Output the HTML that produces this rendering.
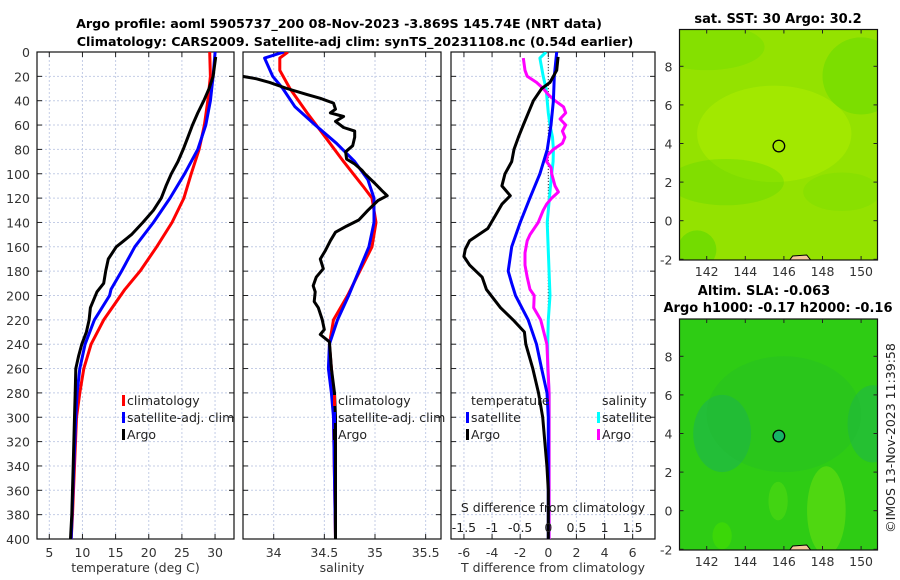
<!DOCTYPE html>
<html><head><meta charset="utf-8"><style>
body{margin:0;background:#fff;}
svg{display:block;font-family:"DejaVu Sans","Liberation Sans",sans-serif;}
</style></head><body>
<svg id="c" width="900" height="580" viewBox="0 0 900 580"></svg>
<script>
// ---- data ----
const tClimDepth=[0,20,40,60,80,100,120,140,160,180,195,220,240,260,280,300,340,380,400];
const tClimVal=[29.2,29.3,28.9,28.4,27.6,26.4,25.3,23.5,21.2,18.7,16.4,13.2,11.3,10.2,9.6,9.1,8.8,8.5,8.3];
const tSatDepth=[0,20,40,60,80,100,120,140,160,180,195,200,220,240,260,280,300,340,400];
const tSatVal=[30.0,29.7,29.3,28.6,27.4,25.4,23.2,20.7,17.9,15.9,14.3,14.1,11.8,10.4,9.6,9.2,9.0,8.7,8.3];
const tArgoDepth=[4,20,30,40,50,60,70,80,90,100,110,120,130,140,150,160,170,180,190,197,210,220,230,240,250,260,280,300,340,380,400];
const tArgoVal=[30.1,29.7,29.1,28.3,27.4,26.6,25.9,25.2,24.4,23.4,22.6,21.9,20.7,19.1,17.4,15.1,13.9,13.5,13.2,12.2,11.2,11.0,10.6,9.9,9.4,9.0,8.9,8.8,8.6,8.4,8.2];
const sClimDepth=[0,5,15,30,50,70,90,110,120,140,160,180,200,220,240,280,300,400];
const sClimVal=[34.14,34.06,34.06,34.16,34.33,34.51,34.69,34.88,34.97,35.01,34.97,34.85,34.73,34.59,34.55,34.59,34.59,34.61];
const sSatDepth=[0,5,20,30,45,60,75,90,105,120,140,160,180,200,220,240,260,280,300,400];
const sSatVal=[34.10,33.91,33.99,34.09,34.21,34.41,34.62,34.80,34.93,34.99,34.99,34.94,34.84,34.74,34.63,34.55,34.54,34.57,34.59,34.61];
const sArgoDepth=[20,22,25,30,35,38,42,47,50,53,57,62,65,70,77,82,88,92,97,100,108,114,118,122,130,138,143,148,155,163,170,178,185,192,197,205,210,220,228,232,238,260,280,300,400];
const sArgoVal=[33.69,33.83,33.96,34.13,34.33,34.46,34.59,34.61,34.56,34.69,34.61,34.69,34.80,34.80,34.78,34.71,34.72,34.80,34.87,34.90,35.00,35.07,35.12,35.03,34.93,34.84,34.72,34.61,34.56,34.51,34.46,34.49,34.42,34.39,34.41,34.40,34.44,34.48,34.50,34.46,34.55,34.57,34.60,34.61,34.61];
const dtSatDepth=[0,20,40,60,80,100,120,140,160,180,190,200,220,240,260,280,300,400];
const dtSatVal=[0.6,0.43,0.36,0.19,-0.07,-0.6,-1.31,-2.0,-2.6,-2.85,-2.6,-2.33,-1.43,-0.84,-0.48,-0.09,0,0];
const dtArgoDepth=[4,15,25,30,40,50,60,70,80,90,100,110,118,125,135,145,155,162,168,175,185,195,210,220,230,240,260,280,300,320,340,360,400];
const dtArgoVal=[0.7,0.6,0.12,-0.47,-1.06,-1.42,-1.78,-2.13,-2.44,-2.6,-3.08,-3.3,-2.7,-3.3,-3.8,-4.3,-5.6,-5.9,-6.0,-5.6,-4.7,-4.4,-3.4,-2.5,-1.7,-1.6,-1.1,-0.7,-0.4,-0.25,-0.1,0,0];
const dsSatDepth=[0,5,20,30,50,60,70,80,90,100,110,120,140,200,220,240,260,280,300,400];
const dsSatVal=[-0.04,-0.15,-0.09,-0.04,0,0.03,0.075,0.09,0.085,0.06,0.04,0.02,-0.02,0.03,0.0,-0.01,-0.01,0.015,0.015,0.015];
const dsArgoDepth=[5,15,20,25,30,35,40,45,50,55,60,65,70,75,80,85,90,95,100,110,115,120,125,130,140,150,155,165,175,185,195,200,210,220,240,280,400];
const dsArgoVal=[-0.445,-0.415,-0.375,-0.21,-0.09,0,0.12,0.27,0.31,0.21,0.31,0.25,0.295,0.25,0.09,-0.02,-0.03,0.05,0.06,0.12,0.18,0.06,-0.03,-0.09,-0.18,-0.325,-0.375,-0.415,-0.415,-0.375,-0.325,-0.25,-0.26,-0.135,-0.025,0.015,0.015];
const depthTicks=[0,20,40,60,80,100,120,140,160,180,200,220,240,260,280,300,320,340,360,380,400];
const tTicks=[5,10,15,20,25,30];
const sTicks=[34,34.5,35,35.5];
const dtTicks=[-6,-4,-2,0,2,4,6];
const dsTicks=[-1.5,-1,-0.5,0,0.5,1,1.5];
const dsTickLabels=["-1.5","-1","-0.5","0","0.5","1","1.5"];
const lonTicks=[142,144,146,148,150];
const latTicks=[-2,0,2,4,6,8];
const argoLon=145.74, argoLat=3.869;

// ---- axes ----
const NS="http://www.w3.org/2000/svg";
const svg=document.getElementById('c');
function mk(tag,attrs,parent){const e=document.createElementNS(NS,tag);for(const k in attrs)e.setAttribute(k,attrs[k]);(parent||svg).appendChild(e);return e;}
const yD=d=>52+d*1.2175;
const xT=t=>49.3+(t-5)*6.63;
const xS=s=>273.7+(s-34)*101.3;
const xDT=v=>548.3+v*14.06;
const xDS=v=>548.3+v*56.24;
const P=[{x0:37,x1:234},{x0:243,x1:441},{x0:451,x1:655}];
const FS=12.5;

// titles
let t=mk('text',{x:339,y:28,'text-anchor':'middle','font-size':12.7,'font-weight':'bold'});t.textContent='Argo profile: aoml 5905737_200 08-Nov-2023 -3.869S 145.74E (NRT data)';


t=mk('text',{x:355,y:46,'text-anchor':'middle','font-size':12.7,'font-weight':'bold'});t.textContent='Climatology: CARS2009. Satellite-adj clim: synTS_20231108.nc (0.54d earlier)';



function panel(i,ticks,xf,name,xlabel,labels){
  const p=P[i];const g=mk('g',{});
  
  
  depthTicks.forEach(d=>{mk('line',{x1:p.x0,x2:p.x1,y1:yD(d),y2:yD(d),stroke:'#c4cde6','stroke-width':1,'stroke-dasharray':'2,2'},g);
    mk('line',{x1:p.x0,x2:p.x0+5,y1:yD(d),y2:yD(d),stroke:'#222'},g);mk('line',{x1:p.x1-5,x2:p.x1,y1:yD(d),y2:yD(d),stroke:'#222'},g);});
  ticks.forEach((v,k)=>{const x=xf(v);mk('line',{x1:x,x2:x,y1:52,y2:539,stroke:'#c4cde6','stroke-dasharray':'2,2'},g);
    mk('line',{x1:x,x2:x,y1:539,y2:534,stroke:'#222'},g);mk('line',{x1:x,x2:x,y1:52,y2:57,stroke:'#222'},g);
    const l=mk('text',{x:x,y:557,'text-anchor':'middle','font-size':FS,fill:'#333'},g);l.textContent=labels?labels[k]:String(v);});
  mk('rect',{x:p.x0,y:52,width:p.x1-p.x0,height:487,fill:'none',stroke:'#111','stroke-width':1.2},g);
  const xl=mk('text',{x:(p.x0+p.x1)/2,y:572,'text-anchor':'middle','font-size':FS,fill:'#333'},g);xl.textContent=xlabel;
  return g;
}
const g1=panel(0,tTicks,xT,'temperature-panel','temperature (deg C)');
const g2=panel(1,sTicks,xS,'salinity-panel','salinity');
const g3=panel(2,dtTicks,xDT,'difference-panel','T difference from climatology');
depthTicks.forEach(d=>{const l=mk('text',{x:30,y:yD(d)+5,'text-anchor':'end','font-size':FS,fill:'#333'});l.textContent=String(d);
  
  });

mk('line',{x1:xDT(0),x2:xDT(0),y1:52,y2:539,stroke:'#333','stroke-dasharray':'1,2'},g3);

function clip(i){const id='cl'+i;const cp=mk('clipPath',{id:id});mk('rect',{x:P[i].x0,y:52,width:P[i].x1-P[i].x0,height:487},cp);return 'url(#'+id+')';}
const cps=[clip(0),clip(1),clip(2)];
function line(g,ci,depths,vals,xf,color,name){
  const pts=depths.map((d,k)=>xf(vals[k]).toFixed(1)+','+yD(d).toFixed(1)).join(' ');
  const e=mk('polyline',{points:pts,fill:'none',stroke:color,'stroke-width':3,'stroke-linejoin':'round','clip-path':cps[ci]},g);
  
  
}
line(g1,0,tClimDepth,tClimVal,xT,'#f00','temp-climatology-line');
line(g1,0,tSatDepth,tSatVal,xT,'#00f','temp-satellite-line');
line(g1,0,tArgoDepth,tArgoVal,xT,'#000','temp-argo-line');
line(g2,1,sClimDepth,sClimVal,xS,'#f00','sal-climatology-line');
line(g2,1,sSatDepth,sSatVal,xS,'#00f','sal-satellite-line');
line(g2,1,sArgoDepth,sArgoVal,xS,'#000','sal-argo-line');
line(g3,2,dsSatDepth,dsSatVal,xDS,'#0ff','sdiff-satellite-line');
line(g3,2,dsArgoDepth,dsArgoVal,xDS,'#f0f','sdiff-argo-line');
line(g3,2,dtSatDepth,dtSatVal,xDT,'#00f','tdiff-satellite-line');
line(g3,2,dtArgoDepth,dtArgoVal,xDT,'#000','tdiff-argo-line');

t=mk('text',{x:553,y:512,'text-anchor':'middle','font-size':FS,fill:'#222'},g3);t.textContent='S difference from climatology';


dsTicks.forEach((v,k)=>{const l=mk('text',{x:xDS(v),y:532,'text-anchor':'middle','font-size':FS,fill:'#222'},g3);l.textContent=dsTickLabels[k];
  
  });

function legend(x,y,color,label,name){
  const g=mk('g',{});
  
  
  mk('rect',{x:x,y:y-10,width:3,height:11,fill:color},g);
  const l=mk('text',{x:x+5,y:y,'font-size':FS,fill:'#222'},g);l.textContent=label;
}
legend(122,405,'#f00','climatology','legend-temp-climatology');
legend(122,422,'#00f','satellite-adj. clim','legend-temp-satellite');
legend(122,439,'#000','Argo','legend-temp-argo');
legend(333,405,'#f00','climatology','legend-sal-climatology');
legend(333,422,'#00f','satellite-adj. clim','legend-sal-satellite');
legend(333,439,'#000','Argo','legend-sal-argo');
t=mk('text',{x:471,y:405,'font-size':FS,fill:'#222'});t.textContent='temperature';


t=mk('text',{x:602,y:405,'font-size':FS,fill:'#222'});t.textContent='salinity';


legend(466,422,'#00f','satellite','legend-tdiff-satellite');
legend(466,439,'#000','Argo','legend-tdiff-argo');
legend(597,422,'#0ff','satellite','legend-sdiff-satellite');
legend(597,439,'#f0f','Argo','legend-sdiff-argo');

// ---- maps ----
function map(top,bottom,name,base,blobs){
  const x0=679.5,x1=877.5;
  const g=mk('g',{});
  
  
  const lonX=l=>706.7+(l-142)*19.3;
  const latY=a=>(bottom-0.7)-(a+2)*19.3;
  const id='m'+Math.round(top);const cp=mk('clipPath',{id:id});mk('rect',{x:x0,y:top,width:x1-x0,height:bottom-top},cp);
  const inner=mk('g',{'clip-path':'url(#'+id+')'},g);
  mk('rect',{x:x0,y:top,width:x1-x0,height:bottom-top,fill:base},inner);
  blobs.forEach(b=>mk('ellipse',{cx:lonX(b[0]),cy:latY(b[1]),rx:b[2]*19.3,ry:b[3]*19.3,fill:b[4],opacity:b[5]},inner));
  mk('path',{d:`M${lonX(146.3)},${bottom} l3,-4 l14,-1 l4,5 z`,fill:'#f5c89a',stroke:'#000'},inner);
  mk('rect',{x:x0,y:top,width:x1-x0,height:bottom-top,fill:'none',stroke:'#111','stroke-width':1.2},g);
  lonTicks.forEach(l=>{const x=lonX(l);mk('line',{x1:x,x2:x,y1:bottom,y2:bottom-4,stroke:'#222'},g);mk('line',{x1:x,x2:x,y1:top,y2:top+4,stroke:'#222'},g);
    const e=mk('text',{x:x,y:bottom+16,'text-anchor':'middle','font-size':FS,fill:'#333'},g);e.textContent=String(l);});
  latTicks.forEach(a=>{const y=latY(a);mk('line',{x1:x0,x2:x0+4,y1:y,y2:y,stroke:'#222'},g);mk('line',{x1:x1,x2:x1-4,y1:y,y2:y,stroke:'#222'},g);
    const e=mk('text',{x:x0-7,y:y+5,'text-anchor':'end','font-size':FS,fill:'#333'},g);e.textContent=String(a);});
  return {g,lonX,latY};
}
const m1=map(29.5,260,'sst-map','#94e200',[[145.5,4.5,4,2.5,'#b0ee00',0.5],[143,2,3,1.2,'#5ed800',0.35],[150,7.5,2,2,'#50d800',0.35],[142,9,3,1.2,'#6adc00',0.35],[149,1.5,2,1,'#70dc00',0.3],[141.5,-1.5,1,1,'#40d400',0.4]]);
const m2=map(319,550,'sla-map','#2ecc14',[[142.8,4,1.5,2,'#1cb450',0.6],[150.6,4.5,1.3,2,'#1cb450',0.5],[146,5,4,3,'#22bb30',0.3],[148.2,0,1,2.3,'#5edc10',0.7],[145.7,0.5,0.5,1,'#50d810',0.6],[142.8,-1.3,0.5,0.7,'#44dd00',0.6]]);
[m1,m2].forEach((m,k)=>{const c=mk('circle',{cx:m.lonX(argoLon),cy:m.latY(argoLat),r:5.8,fill:k?'#16b466':'none',stroke:'#000','stroke-width':1.3},m.g);
  
  });
t=mk('text',{x:778,y:23,'text-anchor':'middle','font-size':13,'font-weight':'bold'});t.textContent='sat. SST: 30 Argo: 30.2';


t=mk('text',{x:764,y:295,'text-anchor':'middle','font-size':13,'font-weight':'bold'});t.textContent='Altim. SLA: -0.063';


t=mk('text',{x:778,y:312,'text-anchor':'middle','font-size':13,'font-weight':'bold'});t.textContent='Argo h1000: -0.17 h2000: -0.16';


t=mk('text',{x:0,y:0,'text-anchor':'middle','font-size':FS,fill:'#222',transform:'translate(895,438) rotate(-90)'});t.textContent='©IMOS 13-Nov-2023 11:39:58';


</script>
</body></html>
